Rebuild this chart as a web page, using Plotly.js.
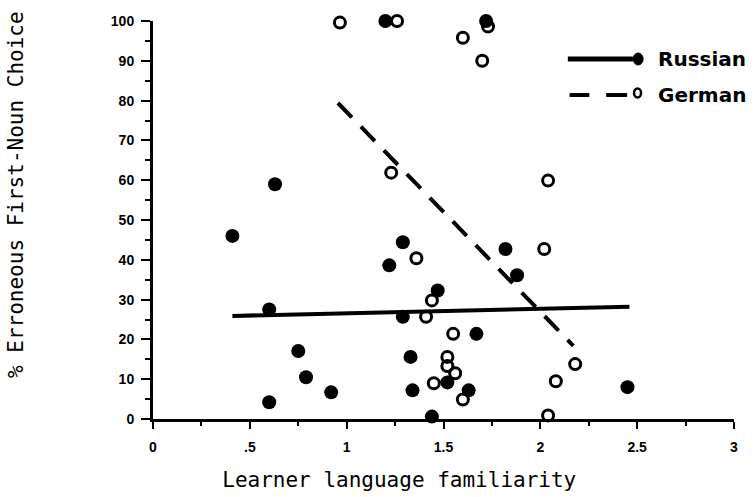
<!DOCTYPE html>
<html>
<head>
<meta charset="utf-8">
<script src="https://cdn.plot.ly/plotly-3.0.1.min.js"></script>
<style>html,body{margin:0;padding:0;background:#fff;}#chart{width:756px;height:497px;}</style>
</head>
<body>
<div id="chart"></div>
<script>
// Russian learners (filled circles)
const russianX = [0.41, 0.63, 0.60, 0.60, 0.75, 0.79, 0.92, 1.20, 1.22, 1.29, 1.29, 1.33, 1.34, 1.44, 1.47, 1.52, 1.63, 1.67, 1.72, 1.82, 1.88, 2.45];
const russianY = [46, 59, 27.5, 4.2, 17.1, 10.5, 6.7, 100, 38.6, 44.4, 25.7, 15.6, 7.2, 0.6, 32.3, 9.2, 7.2, 21.4, 100, 42.7, 36.1, 8];
// German learners (open circles)
const germanX = [0.965, 1.26, 1.60, 1.73, 1.70, 1.23, 1.36, 1.44, 1.41, 1.55, 1.52, 1.52, 1.56, 1.45, 1.60, 2.04, 2.02, 2.18, 2.08, 2.04];
const germanY = [99.6, 100, 95.8, 98.6, 90, 61.9, 40.4, 29.8, 25.7, 21.4, 15.6, 13.3, 11.5, 9, 4.9, 59.9, 42.7, 13.8, 9.5, 0.9];
// Fitted lines
const russianFitX = [0.41, 2.46];
const russianFitY = [25.9, 28.2];
const germanFitX = [0.955, 2.17];
const germanFitY = [79.4, 18.4];
// Axis ticks
const xTickVals = [0, 0.5, 1, 1.5, 2, 2.5, 3];
const xTickText = ['0', '.5', '1', '1.5', '2', '2.5', '3'];
const yTickVals = [0, 10, 20, 30, 40, 50, 60, 70, 80, 90, 100];
const yTickText = ['0', '10', '20', '30', '40', '50', '60', '70', '80', '90', '100'];
const seriesNames = ['Russian', 'German'];

const nb = n => '&nbsp;'.repeat(n);

const traces = [
  {x: russianFitX, y: russianFitY, mode: 'lines', line: {color: '#000', width: 4}, showlegend: false, hoverinfo: 'skip', cliponaxis: false},
  {x: germanFitX, y: germanFitY, mode: 'lines', line: {color: '#000', width: 4, dash: '20px,13px'}, showlegend: false, hoverinfo: 'skip', cliponaxis: false},
  {x: russianX, y: russianY, mode: 'markers', name: seriesNames[0], marker: {symbol: 'circle', size: 14, color: '#000'}, showlegend: false, cliponaxis: false},
  {x: germanX, y: germanY, mode: 'markers', name: seriesNames[1], marker: {symbol: 'circle-open', size: 11, color: '#000', line: {width: 3, color: '#000'}}, showlegend: false, cliponaxis: false}
];

const tickFont = {family: 'Liberation Sans, Arial, sans-serif', size: 14, color: '#000', weight: 'bold'};
const titleFont = {family: 'DejaVu Sans Mono, monospace', size: 21, color: '#000'};

const legY1 = 0.9045, legY2 = 0.814;
const shapes = [
  {type: 'line', xref: 'paper', yref: 'paper', x0: 0.714, x1: 0.826, y0: legY1, y1: legY1, line: {color: '#000', width: 5}},
  {type: 'circle', xref: 'paper', yref: 'paper', xsizemode: 'pixel', ysizemode: 'pixel', xanchor: 0.835, yanchor: legY1, x0: -5, x1: 5, y0: -6, y1: 6, fillcolor: '#000', line: {color: '#000', width: 1}},
  {type: 'line', xref: 'paper', yref: 'paper', x0: 0.717, x1: 0.751, y0: legY2, y1: legY2, line: {color: '#000', width: 4}},
  {type: 'line', xref: 'paper', yref: 'paper', x0: 0.780, x1: 0.816, y0: legY2, y1: legY2, line: {color: '#000', width: 4}},
  {type: 'circle', xref: 'paper', yref: 'paper', xsizemode: 'pixel', ysizemode: 'pixel', xanchor: 0.834, yanchor: legY2 + 0.005, x0: -3.5, x1: 3.5, y0: -4.5, y1: 4.5, fillcolor: 'rgba(0,0,0,0)', line: {color: '#000', width: 2.5}}
];
const legendFont = {family: 'DejaVu Sans, sans-serif', size: 20, color: '#000', weight: 'bold'};
const annotations = [
  {xref: 'paper', yref: 'paper', x: 0.865, y: legY1, xanchor: 'left', yanchor: 'middle', text: seriesNames[0], showarrow: false, font: legendFont},
  {xref: 'paper', yref: 'paper', x: 0.865, y: legY2, xanchor: 'left', yanchor: 'middle', text: seriesNames[1], showarrow: false, font: legendFont}
];

const layout = {
  width: 756, height: 497,
  margin: {l: 153, r: 22, t: 21, b: 78, pad: 0},
  paper_bgcolor: '#fff', plot_bgcolor: '#fff',
  showlegend: false,
  xaxis: {
    range: [0, 3], tickvals: xTickVals, ticktext: xTickText,
    showgrid: false, zeroline: false, showline: true, linecolor: '#000', linewidth: 3,
    ticks: 'outside', ticklen: 7, tickwidth: 2, tickcolor: '#000',
    minor: {tickvals: [0.25, 0.75, 1.25, 1.75, 2.25, 2.75], ticks: 'outside', ticklen: 4, tickwidth: 2, tickcolor: '#000', showgrid: false},
    tickfont: tickFont, ticklabelstandoff: 6,
    title: {text: 'Learner language familiarity' + nb(7), font: titleFont, standoff: 19},
    fixedrange: true
  },
  yaxis: {
    range: [0, 100], tickvals: yTickVals, ticktext: yTickText,
    showgrid: false, zeroline: false, showline: true, linecolor: '#000', linewidth: 3,
    ticks: 'outside', ticklen: 9, tickwidth: 2, tickcolor: '#000',
    minor: {tickvals: [5, 15, 25, 35, 45, 55, 65, 75, 85, 95], ticks: 'outside', ticklen: 5, tickwidth: 2, tickcolor: '#000', showgrid: false},
    tickfont: tickFont, ticklabelstandoff: 4,
    title: {text: nb(4) + '% Erroneous First-Noun Choice', font: titleFont, standoff: 82},
    fixedrange: true
  },
  shapes: shapes,
  annotations: annotations
};

Plotly.newPlot('chart', traces, layout, {displayModeBar: false, staticPlot: true});
</script>
</body>
</html>
